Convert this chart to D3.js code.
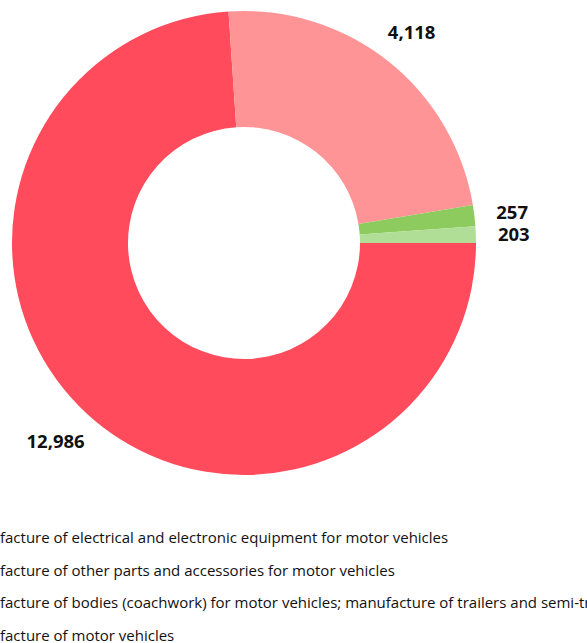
<!DOCTYPE html>
<html><head><meta charset="utf-8">
<script src="https://cdn.jsdelivr.net/npm/d3@7"></script>
<style>body{margin:0;background:#fff;overflow:hidden}svg{display:block}</style>
</head><body>
<svg id="c" width="587" height="643"></svg>
<script>
const categories = [
  "Manufacture of motor vehicles",
  "Manufacture of other parts and accessories for motor vehicles",
  "Manufacture of bodies (coachwork) for motor vehicles; manufacture of trailers and semi-trailers",
  "Manufacture of electrical and electronic equipment for motor vehicles"
];
const values = [12986, 4118, 257, 203];
const colors = ["#ff4b5c", "#ff9497", "#8dcb5e", "#b1de97"];
const legendOrder = [3, 1, 2, 0];

const svg = d3.select("#c");
const cx = 244, cy = 243, outerR = 232, innerR = 116, labelR = 270;
const fmt = d3.format(",");

const pie = d3.pie().sort(null).value(d => d)
  .startAngle(Math.PI / 2).endAngle(Math.PI / 2 + 2 * Math.PI);
const arcs = pie(values);
const arc = d3.arc().innerRadius(innerR).outerRadius(outerR);
const labelArc = d3.arc().innerRadius(labelR).outerRadius(labelR);

const g = svg.append("g").attr("transform", `translate(${cx},${cy})`);
g.selectAll("path").data(arcs).join("path")
  .attr("d", arc).attr("fill", (d, i) => colors[i]);

g.selectAll("text").data(arcs).join("text")
  .attr("transform", (d, i) => {
    const c = labelArc.centroid(d);
    return `translate(${c[0] - (i === 0 ? 4 : 0)},${c[1]})`;
  })
  .attr("text-anchor", "middle").attr("dominant-baseline", "central")
  .attr("font-family", "'Open Sans', sans-serif").attr("font-weight", 700)
  .attr("font-size", 18.5).attr("fill", "#111")
  .text(d => fmt(d.data));

// legend (markers sit off-canvas on the left, as in the reference)
const fs = 15;
const lg = svg.append("g");
const tmp = lg.append("text").attr("font-family", "'Open Sans', sans-serif").attr("font-size", fs).text("Manu");
const shift = tmp.node().getComputedTextLength();
tmp.remove();
const ly = d3.scaleBand().domain(legendOrder.map(String)).range([521, 651]);
legendOrder.forEach(i => {
  const y = ly(String(i)) + ly.bandwidth() / 2;
  lg.append("rect").attr("x", -shift - 26).attr("y", y - 7).attr("width", 14).attr("height", 14).attr("fill", colors[i]);
  lg.append("text").attr("x", -shift).attr("y", y)
    .attr("dominant-baseline", "central")
    .attr("font-family", "'Open Sans', sans-serif").attr("font-size", fs).attr("fill", "#111")
    .text(categories[i]);
});
</script>
</body></html>
